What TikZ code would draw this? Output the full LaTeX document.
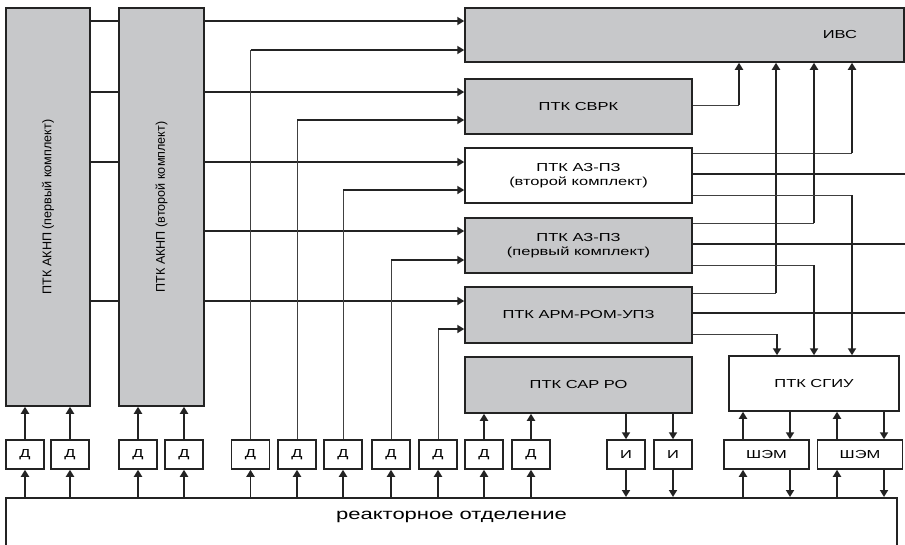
\documentclass[tikz,border=0pt]{standalone}
\usepackage{fontspec}
\setmainfont{Liberation Sans}[FakeStretch=1.42]
\newfontfamily\vertfont{Liberation Sans}
\usepackage{graphicx}
\usepackage{tikz}
\usetikzlibrary{arrows.meta}
\definecolor{blkgray}{RGB}{199,200,202}
\definecolor{lnblack}{RGB}{35,35,35}
\tikzset{
 blknode/.style = {align=center, inner sep=0pt, text centered, draw=lnblack,
    line width=1.5pt, font=\fontsize{11.6}{14}\selectfont},
  blk_g/.style = {blknode, rectangle, fill=blkgray},% блок ПТК, серый
  blk_w/.style = {blknode, rectangle, fill=white},% блок ПТК, белый
  sens_d/.style = {blknode, rectangle, fill=white,
    minimum width=38pt, minimum height=29pt},% датчик
  ln_k/.style = {draw=lnblack, line width=1.8pt},
  ln_t/.style = {draw=black!75, line width=0.8pt}
}

\begin{document}
\begin{tikzpicture}[x=1pt,y=-1pt,>={Triangle[length=7pt,width=8pt]}]
  \path[use as bounding box,clip] (0,0) rectangle (905,544);
  % АКНП
  \node [blk_g, minimum width=84pt, minimum height=398pt] (aknp1) at (48,207)
    {\rotatebox{90}{\vertfont\fontsize{12.6}{15}\selectfont ПТК АКНП (первый комплект)}};
  \node [blk_g, minimum width=85pt, minimum height=398pt] (aknp2) at (161.5,207)
    {\rotatebox{90}{\vertfont\fontsize{12.6}{15}\selectfont ПТК АКНП (второй комплект)}};
  % блоки справа
  \node [blk_g, minimum height=54pt, text width=345pt, inner xsep=47pt,
    align=right] (ivs) at (684.5,35) {ИВС};
  \node [blk_g, minimum width=227pt, minimum height=55pt] (svrk) at (578.5,106.5) {ПТК СВРК};
  \node [blk_w, minimum width=227pt, minimum height=55pt] (az2) at (578.5,175.5)
    {ПТК АЗ-ПЗ\\(второй комплект)};
  \node [blk_g, minimum width=227pt, minimum height=55pt] (az1) at (578.5,245.5)
    {ПТК АЗ-ПЗ\\(первый комплект)};
  \node [blk_g, minimum width=227pt, minimum height=56pt] (arm) at (578.5,315) {ПТК АРМ-РОМ-УПЗ};
  \node [blk_g, minimum width=227pt, minimum height=56pt] (sap) at (578.5,385) {ПТК САР РО};
  \node [blk_w, minimum width=170pt, minimum height=55pt] (sgiu) at (814,383.5) {ПТК СГИУ};
  % датчики
  \foreach \n/\x in {1/25,2/70,3/138,4/184,5/250.5,6/297,7/343,8/391,9/438,10/484,11/531}
    \node [sens_d] (d\n) at (\x,454.5) {Д};
  \foreach \n/\x in {1/626,2/673}
    \node [sens_d] (i\n) at (\x,454.5) {И};
  \foreach \n/\x in {1/766.5,2/860}
    \node [sens_d, minimum width=85pt] (shem\n) at (\x,454.5) {ШЭМ};
  \node [blk_w, minimum width=891pt, minimum height=60pt, anchor=north,
    label={[anchor=center, yshift=-20pt, font=\fontsize{15.5}{18}\selectfont]north:реакторное отделение}]
    (reak) at (451.5,497) {};
  \coordinate (rt) at (905,0);

  % связи
  \foreach \yy in {21,92,162,301}
    \draw [ln_k] (aknp1.east |- 0,\yy) -- (aknp2.west |- 0,\yy);
  \foreach \yy/\bl in {21/ivs,92/svrk,162/az2,231/az1,301/arm}
    \draw [ln_k,->] (aknp2.east |- 0,\yy) -- (\bl.west |- 0,\yy);
  \foreach \s/\yy/\bl in {d5/50/ivs,d6/120/svrk,d7/190/az2,d8/260/az1,d9/329/arm}{
    \draw [ln_t] (\s.north) -- (\s.north |- 0,\yy);
    \draw [ln_k,->] (\s.north |- 0,\yy) -- (\bl.west |- 0,\yy);
  }
  \foreach \bl/\yy/\x in {svrk/105/739,az2/153/852,az1/223/814,arm/293/776}{
    \draw [ln_t] (\bl.east |- 0,\yy) -- (\x,\yy);
    \draw [ln_k,->] (\x,\yy) -- (ivs.south -| \x,0);
  }
  \foreach \bl/\yy/\x in {az2/195/852,az1/265/814,arm/334/777}{
    \draw [ln_t] (\bl.east |- 0,\yy) -- (\x,\yy);
    \draw [ln_k,->] (\x,\yy) -- (sgiu.north -| \x,0);
  }
  \foreach \bl/\yy in {az2/174,az1/244,arm/313}
    \draw [ln_k] (\bl.east |- 0,\yy) -- (rt |- 0,\yy);

  % нижний ряд
  \foreach \s/\bl in {d1/aknp1,d2/aknp1,d3/aknp2,d4/aknp2,d10/sap,d11/sap}
    \draw [ln_k,->] (\s.north) -- (\bl.south -| \s.north);
  \foreach \n in {1,...,11}
    \draw [ln_k,->] (reak.north -| d\n.south) -- (d\n.south);
  \foreach \n in {1,2}{
    \draw [ln_k,->] (sap.south -| i\n.north) -- (i\n.north);
    \draw [ln_k,->] (i\n.south) -- (reak.north -| i\n.south);
  }
  \foreach \x/\s in {743/shem1,837/shem2}{
    \draw [ln_k,->] (\s.north -| \x,0) -- (sgiu.south -| \x,0);
    \draw [ln_k,->] (reak.north -| \x,0) -- (\s.south -| \x,0);
  }
  \foreach \x/\s in {790/shem1,884/shem2}{
    \draw [ln_k,->] (sgiu.south -| \x,0) -- (\s.north -| \x,0);
    \draw [ln_k,->] (\s.south -| \x,0) -- (reak.north -| \x,0);
  }
\end{tikzpicture}
\end{document}
